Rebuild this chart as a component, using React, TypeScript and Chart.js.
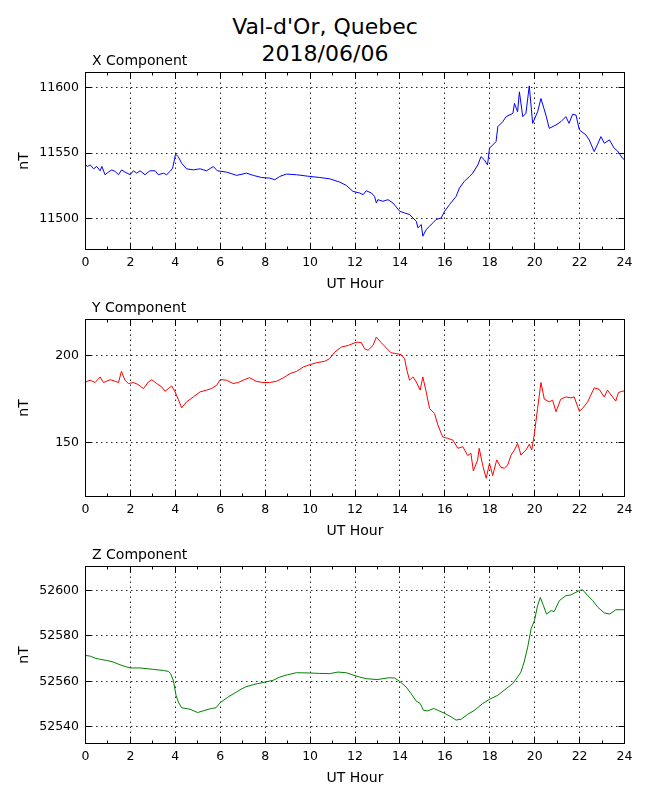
import React, { useEffect, useRef } from "react";
import { Chart, registerables } from "chart.js";

Chart.register(...registerables);

const FONT = "DejaVu Sans";

// Hour ticks
const HOUR_TICKS = [0, 2, 4, 6, 8, 10, 12, 14, 16, 18, 20, 22, 24];
const HOUR_MINOR = [1, 3, 5, 7, 9, 11, 13, 15, 17, 19, 21, 23];

// X component (nT)
const X_HOURS = [
  0, 0.09, 0.21, 0.36, 0.5, 0.65, 0.73, 0.87, 1.02, 1.17, 1.32, 1.47, 1.61, 1.76, 1.99,
  2.13, 2.28, 2.43, 2.65, 2.87, 3.1, 3.24, 3.47, 3.61, 3.76, 3.88, 4.01, 4.13, 4.28, 4.5, 4.8,
  5.1, 5.39, 5.69, 5.87, 6.28, 6.73, 7.17, 7.47, 7.84, 8.21, 8.43, 8.65, 8.95, 9.39, 9.99,
  10.43, 10.87, 11.32, 11.61, 11.91,
  12.21, 12.36, 12.5, 12.73, 12.87, 12.95, 13.02, 13.24, 13.47, 13.69, 13.99,
  14.21, 14.43, 14.58, 14.73, 14.8, 14.95, 15.02, 15.17, 15.32, 15.47, 15.61, 15.84, 15.99,
  16.21, 16.5, 16.65, 16.87, 17.1, 17.24, 17.47, 17.61, 17.76, 17.9, 17.99,
  18.28, 18.36, 18.58, 18.73, 19.03, 19.1, 19.24, 19.32, 19.47, 19.61, 19.76, 19.91,
  20.13, 20.28, 20.5, 20.65, 20.95, 21.17, 21.39, 21.53, 21.69, 21.84, 21.99,
  22.28, 22.43, 22.65, 22.79, 22.95, 23.1, 23.33, 23.54, 23.69, 23.91, 24,
];
const X_VALUES = [
  11541.1, 11539.9, 11541.1, 11538.1, 11539.9, 11536.6, 11539.9, 11533.6, 11535.6, 11537.3, 11536.1, 11533.6, 11537.3, 11535.6, 11533.6,
  11536.6, 11534.8, 11536.6, 11533.6, 11536.6, 11536.6, 11533.6, 11534.8, 11533.6, 11536.1, 11538.6, 11549.2, 11547.4, 11542.4, 11538.1, 11537.3,
  11538.1, 11536.6, 11539.9, 11536.6, 11535.6, 11533.1, 11534.8, 11533.1, 11531.5, 11531.0, 11529.8, 11532.3, 11534.1, 11533.6, 11532.3,
  11531.5, 11530.5, 11528.0, 11525.5, 11520.9,
  11519.7, 11518.4, 11521.4, 11519.7, 11517.1, 11512.1, 11514.6, 11513.4, 11514.6, 11512.1, 11505.8,
  11504.5, 11503.3, 11500.7, 11498.2, 11493.2, 11495.7, 11486.8, 11491.9, 11494.4, 11497.0, 11499.5, 11500.7, 11505.8,
  11510.9, 11517.1, 11523.5, 11528.6, 11532.3, 11534.8, 11541.1, 11547.4, 11544.9, 11541.1, 11553.8,
  11558.8, 11570.2, 11574.0, 11577.8, 11580.3, 11587.9, 11581.5, 11596.7, 11577.8, 11580.3, 11601.2, 11572.7,
  11581.5, 11591.6, 11579.0, 11568.9, 11571.5, 11574.0, 11577.8, 11572.7, 11579.6, 11579.0, 11567.7,
  11563.9, 11560.1, 11551.2, 11556.3, 11562.6, 11557.6, 11560.1, 11553.8, 11551.7, 11546.2, 11545.0,
];
const X_TICKS = [11500, 11550, 11600];
const X_RANGE = [11476.7, 11611.4];

// Y component (nT)
const Y_HOURS = [
  0, 0.21, 0.43, 0.65, 0.8, 1.1, 1.32, 1.47, 1.6, 1.76, 1.91, 2.13, 2.35, 2.58, 2.8, 2.95,
  3.17, 3.39, 3.54, 3.69, 3.84, 3.99, 4.13, 4.28, 4.5, 4.8, 5.1, 5.39, 5.6, 5.84, 6.0, 6.28, 6.58, 6.8,
  7.02, 7.3, 7.6, 7.9, 8.2, 8.5, 8.8, 9.1, 9.4, 9.7, 10.0, 10.3, 10.65, 10.87, 11.1, 11.4, 11.7, 12.0,
  12.13, 12.28, 12.43, 12.58, 12.8, 12.95, 13.17, 13.4, 13.6, 13.84,
  14.06, 14.21, 14.31, 14.43, 14.58, 14.73, 14.9, 15.02, 15.17, 15.32, 15.54, 15.69, 15.9,
  16.13, 16.36, 16.58, 16.8, 17.02, 17.16, 17.27, 17.46, 17.53, 17.69, 17.84, 17.99,
  18.13, 18.31, 18.5, 18.65, 18.8, 18.95, 19.1, 19.24, 19.39, 19.61, 19.76, 19.87, 19.98,
  20.13, 20.28, 20.43, 20.65, 20.8, 20.95, 21.16, 21.39, 21.61, 21.76, 21.99,
  22.13, 22.36, 22.65, 22.87, 23.1, 23.24, 23.47, 23.61, 23.73, 23.9, 24,
];
const Y_VALUES = [
  184.7, 185.7, 184.4, 187.6, 184.4, 186.0, 185.1, 184.4, 190.8, 185.7, 183.8, 184.4, 183.2, 180.9, 184.7, 186.0,
  183.8, 181.9, 179.4, 180.9, 182.4, 179.0, 174.8, 169.8, 173.3, 176.1, 179.0, 180.0, 180.9, 182.8, 186.1, 185.7, 183.8, 184.4,
  185.7, 187.2, 185.1, 184.4, 184.4, 185.1, 187.0, 189.5, 190.8, 193.3, 194.7, 195.8, 196.6, 198.1, 201.9, 204.8, 205.7, 207.3,
  207.6, 207.3, 203.8, 202.9, 205.7, 210.5, 207.3, 204.2, 201.5, 201.0,
  200.4, 198.0, 191.4, 185.7, 187.6, 184.7, 180.0, 187.6, 179.0, 169.5, 166.6, 160.0, 153.2,
  152.3, 151.3, 146.6, 147.5, 142.4, 143.8, 133.6, 139.9, 146.6, 136.6, 129.4, 138.0,
  130.9, 139.9, 135.5, 135.2, 137.0, 142.7, 145.6, 149.4, 142.7, 145.6, 148.9, 145.6, 154.2,
  169.5, 184.4, 174.8, 173.3, 174.2, 167.6, 174.8, 176.1, 175.6, 176.1, 167.9,
  169.5, 173.3, 181.3, 180.5, 176.1, 180.0, 176.1, 173.7, 178.6, 179.4, 179.5,
];
const Y_TICKS = [150, 200];
const Y_RANGE = [118.9, 220.6];

// Z component (nT)
const Z_HOURS = [
  0, 0.21, 0.43, 0.65, 0.95, 1.24, 1.54, 1.84, 2.01, 2.43, 3.02, 3.47, 3.69, 3.79, 3.91,
  4.03, 4.13, 4.28, 4.65, 4.99, 5.32, 5.61, 5.81, 6.0, 6.36, 6.73, 7.1, 7.47, 8.0, 8.36,
  8.65, 8.99, 9.39, 9.99, 10.43, 10.87, 11.24, 11.61, 12.0,
  12.21, 12.5, 12.99, 13.5, 13.76, 13.99, 14.28, 14.5, 14.73, 14.9, 15.05, 15.24, 15.5, 15.69, 16.0,
  16.28, 16.5, 16.73, 17.0, 17.32, 17.69, 18.0, 18.36, 18.73, 19.02, 19.24, 19.39, 19.53, 19.69, 19.84,
  19.99, 20.13, 20.25, 20.39, 20.53, 20.73, 20.87, 21.1, 21.39, 21.61, 21.99, 22.13, 22.36, 22.59, 22.81,
  23.1, 23.35, 23.61, 23.91, 24,
];
const Z_VALUES = [
  52571.4, 52571.1, 52570.2, 52569.7, 52569.2, 52568.5, 52567.3, 52566.3, 52565.9, 52565.9, 52565.3, 52564.8, 52564.4, 52563.4, 52560.5,
  52553.9, 52551.0, 52548.4, 52547.8, 52546.3, 52547.3, 52548.1, 52548.4, 52550.7, 52553.2, 52555.4, 52557.5, 52558.6, 52559.7, 52560.5,
  52561.9, 52562.9, 52563.8, 52563.7, 52563.5, 52563.4, 52564.1, 52563.8, 52562.5,
  52561.9, 52561.2, 52560.8, 52561.6, 52561.5, 52560.0, 52557.5, 52554.6, 52551.3, 52550.3, 52547.3, 52547.0, 52548.1, 52547.3, 52545.9,
  52544.4, 52543.0, 52543.4, 52545.4, 52547.3, 52550.3, 52552.2, 52553.9, 52556.8, 52559.0, 52561.9, 52564.1, 52568.5, 52575.1, 52583.1,
  52586.7, 52593.3, 52596.9, 52593.3, 52589.6, 52591.1, 52590.7, 52595.5, 52597.7, 52598.0, 52599.9, 52600.3, 52597.7, 52595.5, 52592.6,
  52590.1, 52589.6, 52591.5, 52591.5, 52591.5,
];
const Z_TICKS = [52540, 52560, 52580, 52600];
const Z_RANGE = [52532.7, 52610.5];

type PanelProps = {
  top: number;
  title: string;
  hours: number[];
  values: number[];
  color: string;
  range: number[];
  ticks: number[];
};

function Panel({ top, title, hours, values, color, range, ticks }: PanelProps) {
  const ref = useRef<HTMLCanvasElement | null>(null);

  useEffect(() => {
    const canvas = ref.current;
    if (!canvas) return;

    const decor = {
      id: "decor",
      afterDraw(chart: any) {
        const { ctx, chartArea } = chart;
        const { left, right, top: t, bottom } = chartArea;
        const xs = chart.scales.x;
        const ys = chart.scales.y;
        const crisp = (p: number) => Math.round(p - 0.5) + 0.5;
        ctx.save();
        ctx.strokeStyle = "#000";
        ctx.lineWidth = 1;
        ctx.setLineDash([]);
        ctx.beginPath();
        for (const h of HOUR_TICKS) {
          const px = crisp(xs.getPixelForValue(h));
          ctx.moveTo(px, bottom);
          ctx.lineTo(px, bottom - 6);
          ctx.moveTo(px, t);
          ctx.lineTo(px, t + 6);
        }
        for (const h of HOUR_MINOR) {
          const px = crisp(xs.getPixelForValue(h));
          ctx.moveTo(px, bottom);
          ctx.lineTo(px, bottom - 3);
          ctx.moveTo(px, t);
          ctx.lineTo(px, t + 3);
        }
        for (const v of ticks) {
          const py = crisp(ys.getPixelForValue(v));
          ctx.moveTo(left, py);
          ctx.lineTo(left + 6, py);
          ctx.moveTo(right, py);
          ctx.lineTo(right - 6, py);
        }
        ctx.stroke();
        ctx.strokeRect(left, t, right - left, bottom - t);
        ctx.fillStyle = "#000";
        ctx.font = `14px '${FONT}'`;
        ctx.textAlign = "left";
        ctx.textBaseline = "alphabetic";
        ctx.fillText(title, left + 6.5, t - 7.5);
        ctx.restore();
      },
    };

    const chart = new Chart(canvas, {
      type: "line",
      data: {
        datasets: [
          {
            data: hours.map((h, i) => ({ x: h, y: values[i] })),
            borderColor: color,
            borderWidth: 1,
            pointRadius: 0,
            fill: false,
            tension: 0,
          },
        ],
      },
      options: {
        responsive: false,
        animation: false,
        layout: { padding: { top: 72.5, left: 0, right: 25.5, bottom: 0 } },
        plugins: {
          legend: { display: false },
          tooltip: { enabled: false },
          title: { display: false },
        },
        scales: {
          x: {
            type: "linear",
            min: 0,
            max: 24,
            afterBuildTicks: (s: any) => {
              s.ticks = HOUR_TICKS.map((v) => ({ value: v }));
            },
            afterFit: (s: any) => {
              s.height = 50.5;
            },
            grid: { color: "rgba(0,0,0,0.85)", lineWidth: 1, drawTicks: false },
            border: { display: false, dash: [1.5, 3.5] },
            ticks: {
              autoSkip: false,
              maxRotation: 0,
              padding: 6,
              color: "#000",
              font: { family: FONT, size: 12.5 },
              callback: (v: any) => String(v),
            },
            title: {
              display: true,
              text: "UT Hour",
              color: "#000",
              font: { family: FONT, size: 14 },
              padding: { top: 0, bottom: 6.8 },
            },
          },
          y: {
            type: "linear",
            min: range[0],
            max: range[1],
            afterBuildTicks: (s: any) => {
              s.ticks = ticks.map((v) => ({ value: v }));
            },
            afterFit: (s: any) => {
              s.width = 85.5;
            },
            grid: { color: "rgba(0,0,0,0.85)", lineWidth: 1, drawTicks: false },
            border: { display: false, dash: [1.5, 3.5] },
            ticks: {
              padding: 6.5,
              color: "#000",
              font: { family: FONT, size: 12.5 },
              callback: (v: any) => String(v),
            },
            title: {
              display: true,
              text: "nT",
              color: "#000",
              font: { family: FONT, size: 14 },
              padding: { top: 15.7, bottom: 0 },
            },
          },
        },
      } as any,
      plugins: [decor],
    });

    return () => chart.destroy();
  }, [top, title, hours, values, color, range, ticks]);

  return (
    <canvas
      ref={ref}
      width={650}
      height={300}
      style={{ position: "absolute", left: 0, top, width: 650, height: 300 }}
    />
  );
}

export default function App() {
  return (
    <div style={{ position: "absolute", left: 0, top: 0, width: 650, height: 800, background: "#fff" }}>
      <div
        style={{
          position: "absolute",
          left: 0,
          top: 13,
          width: 650,
          textAlign: "center",
          fontFamily: `'${FONT}'`,
          fontSize: 22,
          lineHeight: "27.4px",
          color: "#000",
        }}
      >
        Val-d'Or, Quebec
        <br />
        2018/06/06
      </div>
      <Panel top={0} title="X Component" hours={X_HOURS} values={X_VALUES} color="#0000ff" range={X_RANGE} ticks={X_TICKS} />
      <Panel top={247} title="Y Component" hours={Y_HOURS} values={Y_VALUES} color="#ff0000" range={Y_RANGE} ticks={Y_TICKS} />
      <Panel top={494} title="Z Component" hours={Z_HOURS} values={Z_VALUES} color="#008000" range={Z_RANGE} ticks={Z_TICKS} />
    </div>
  );
}
